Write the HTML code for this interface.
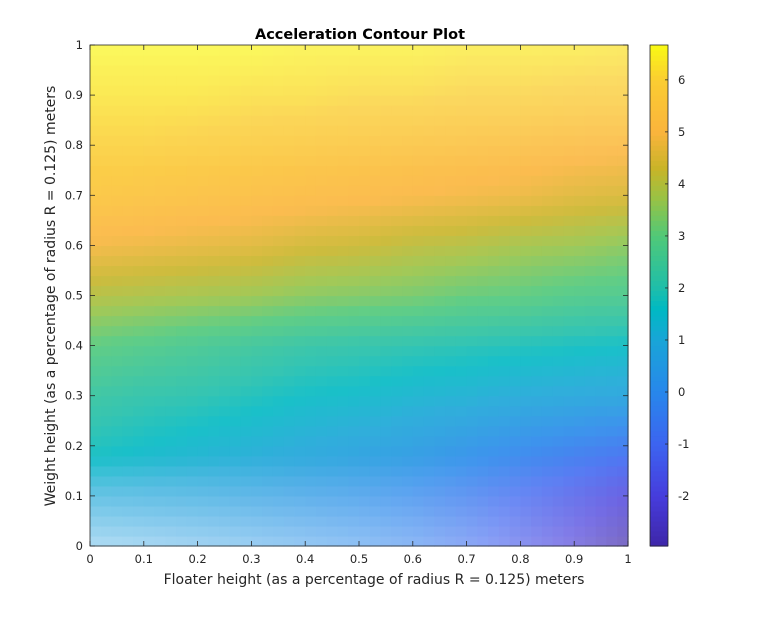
<!DOCTYPE html>
<html><head><meta charset="utf-8"><style>
body{margin:0;background:#fff;width:765px;height:614px;overflow:hidden}
text{font-family:"DejaVu Sans","Liberation Sans",sans-serif;fill:#262626}
</style></head><body>
<svg id="chart" width="765" height="614" xmlns="http://www.w3.org/2000/svg">
<rect width="765" height="614" fill="#fff"/>
<g id="cells"></g>
<g id="cbar"></g>
<rect x="90" y="45" width="538" height="501" fill="none" stroke="#262626" stroke-width="0.8"/>
<g id="axes"></g>
<text x="360" y="39" text-anchor="middle" font-size="14.5" font-weight="bold" style="fill:#000">Acceleration Contour Plot</text>
<text x="374" y="584" text-anchor="middle" font-size="14">Floater height (as a percentage of radius R = 0.125) meters</text>
<text transform="translate(55,296) rotate(-90)" text-anchor="middle" font-size="14">Weight height (as a percentage of radius R = 0.125) meters</text>
</svg>
<script>
const xVals=[0,0.1,0.2,0.3,0.4,0.5,0.6,0.7,0.8,0.9,1];
const yVals=[0,0.1,0.2,0.3,0.4,0.5,0.6,0.7,0.8,0.9,1];
const z0=[0.7,0.6,0.5,0.4,0.2,0.0,-0.3,-0.8,-1.5,-2.2,-3.0];
const z1=[1.0,0.9,0.8,0.6,0.4,0.2,-0.1,-0.5,-1.0,-1.5,-2.0];
const z2=[1.8,1.6,1.4,1.2,1.0,0.8,0.6,0.3,0.0,-0.3,-0.6];
const z3=[2.3,2.1,2.0,1.8,1.6,1.5,1.3,1.2,1.0,0.9,0.8];
const z4=[3.0,2.8,2.6,2.4,2.2,2.1,2.0,1.9,1.8,1.7,1.6];
const z5=[4.0,3.9,3.8,3.7,3.5,3.4,3.3,3.1,3.0,2.8,2.7];
const z6=[4.9,4.8,4.7,4.6,4.4,4.3,4.1,4.0,3.8,3.7,3.5];
const z7=[5.6,5.5,5.4,5.3,5.2,5.1,5.0,4.9,4.8,4.6,4.5];
const z8=[6.0,6.0,5.9,5.8,5.7,5.6,5.5,5.4,5.3,5.2,5.1];
const z9=[6.3,6.3,6.3,6.2,6.2,6.1,6.1,6.0,6.0,5.9,5.9];
const z10=[6.6,6.6,6.6,6.6,6.5,6.5,6.5,6.4,6.4,6.4,6.3];
const zRows=[z0,z1,z2,z3,z4,z5,z6,z7,z8,z9,z10];
const xTicks=[0,0.1,0.2,0.3,0.4,0.5,0.6,0.7,0.8,0.9,1];
const yTicks=[0,0.1,0.2,0.3,0.4,0.5,0.6,0.7,0.8,0.9,1];
const cTicks=[-2,-1,0,1,2,3,4,5,6];
const cMin=-2.96, cMax=6.67;
const X0=90,X1=628,Y0=546,Y1=45;
const sx=v=>X0+(X1-X0)*v, sy=v=>Y0+(Y1-Y0)*v;
const par=[[-2.96,62,38,168],[-2,70,60,220],[-1,60,100,240],[0,40,135,235],[1,25,165,215],[1.6,0,185,195],[2,30,190,170],[3,80,200,120],[3.7,150,195,70],[4.3,200,180,40],[5,250,180,60],[6,250,205,50],[6.67,249,250,20]];
function cmap(v,w){let t=Math.max(cMin,Math.min(cMax,v));let i=0;while(i<par.length-2&&t>par[i+1][0])i++;
const a=par[i],b=par[i+1],f=(t-a[0])/(b[0]-a[0]);const c=[1,2,3].map(k=>a[k]+(b[k]-a[k])*f);
return 'rgb('+c.map(x=>Math.round(x+(255-x)*w)).join(',')+')';}
const NS='http://www.w3.org/2000/svg';
const cells=document.getElementById('cells');
const sub=5;
for(let j=0;j<yVals.length-1;j++)for(let i=0;i<xVals.length-1;i++)for(let b=0;b<sub;b++)for(let a=0;a<sub;a++){
 const fx=(a+0.5)/sub,fy=(b+0.5)/sub;
 const v=zRows[j][i]*(1-fx)*(1-fy)+zRows[j][i+1]*fx*(1-fy)+zRows[j+1][i]*(1-fx)*fy+zRows[j+1][i+1]*fx*fy;
 const xv=xVals[i]+(xVals[i+1]-xVals[i])*fx, yv=yVals[j]+(yVals[j+1]-yVals[j])*fy;
 let w=0.1; if(yv<0.18){w+= (0.18-yv)/0.18*0.55*(1-0.6*xv);}
 if(yv>0.75){w+=(yv-0.75)/0.25*0.2;}
 const xa=xVals[i]+(xVals[i+1]-xVals[i])*a/sub, xb=xVals[i]+(xVals[i+1]-xVals[i])*(a+1)/sub;
 const ya=yVals[j]+(yVals[j+1]-yVals[j])*b/sub, yb=yVals[j]+(yVals[j+1]-yVals[j])*(b+1)/sub;
 const r=document.createElementNS(NS,'rect');
 r.setAttribute('x',sx(xa));r.setAttribute('y',sy(yb));r.setAttribute('width',sx(xb)-sx(xa)+0.6);r.setAttribute('height',sy(ya)-sy(yb)+0.6);
 r.setAttribute('fill',cmap(v,w));
 
 
 cells.appendChild(r);
}
const cb=document.getElementById('cbar');
const CB0=650,CB1=668;
const cy=v=>Y0+(Y1-Y0)*(v-cMin)/(cMax-cMin);
for(let k=0;k<100;k++){const v0=cMin+(cMax-cMin)*k/100,v1=cMin+(cMax-cMin)*(k+1)/100;
 const r=document.createElementNS(NS,'rect');r.setAttribute('x',CB0);r.setAttribute('y',cy(v1));r.setAttribute('width',CB1-CB0);r.setAttribute('height',cy(v0)-cy(v1)+0.6);r.setAttribute('fill',cmap((v0+v1)/2,0));
 
 
 cb.appendChild(r);}
let fr=document.createElementNS(NS,'rect');fr.setAttribute('x',CB0);fr.setAttribute('y',Y1);fr.setAttribute('width',CB1-CB0);fr.setAttribute('height',Y0-Y1);fr.setAttribute('fill','none');fr.setAttribute('stroke','#262626');fr.setAttribute('stroke-width','0.8');cb.appendChild(fr);
const ax=document.getElementById('axes');
function ln(x1,y1,x2,y2,p){const l=document.createElementNS(NS,'line');l.setAttribute('x1',x1);l.setAttribute('y1',y1);l.setAttribute('x2',x2);l.setAttribute('y2',y2);l.setAttribute('stroke','#262626');l.setAttribute('stroke-width','0.8');p.appendChild(l);}
function tx(x,y,s,anc,p,name){const t=document.createElementNS(NS,'text');t.setAttribute('x',x);t.setAttribute('y',y);t.setAttribute('font-size','11.5');t.setAttribute('text-anchor',anc);t.textContent=s;
 
 
 p.appendChild(t);}
xTicks.forEach(v=>{ln(sx(v),Y0,sx(v),Y0-5,ax);ln(sx(v),Y1,sx(v),Y1+5,ax);tx(sx(v),Y0+17,String(v),'middle',ax,'x-tick-label');});
yTicks.forEach(v=>{ln(X0,sy(v),X0+5,sy(v),ax);ln(X1,sy(v),X1-5,sy(v),ax);tx(X0-7,sy(v)+4,String(v),'end',ax,'y-tick-label');});
cTicks.forEach(v=>{ln(CB1,cy(v),CB1-3,cy(v),cb);tx(CB1+10,cy(v)+4,String(v),'start',cb,'colorbar-tick-label');});
</script>
</body></html>
